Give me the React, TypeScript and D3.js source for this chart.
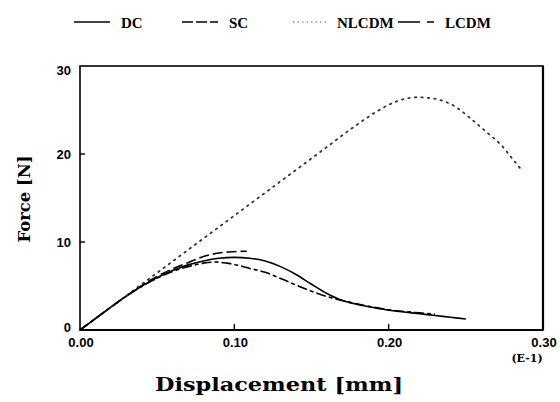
import React from 'react'
import * as d3 from 'd3'

type Pt = [number, number]

// displacement (E-1 mm), force (N)
const dcData: Pt[] = [
  [0, 0], [0.01, 1.3], [0.02, 2.6], [0.03, 3.85], [0.04, 5.0], [0.05, 5.95],
  [0.06, 6.75], [0.07, 7.4], [0.08, 7.85], [0.09, 8.15], [0.1, 8.25], [0.11, 8.15],
  [0.12, 7.85], [0.13, 7.2], [0.14, 6.3], [0.15, 5.2], [0.16, 4.15], [0.17, 3.35],
  [0.18, 2.9], [0.19, 2.55], [0.2, 2.25], [0.21, 2.05], [0.22, 1.85], [0.23, 1.65],
  [0.24, 1.45], [0.25, 1.25],
]
const scData: Pt[] = [
  [0, 0], [0.01, 1.3], [0.02, 2.6], [0.03, 3.85], [0.04, 5.05], [0.05, 6.1],
  [0.06, 6.95], [0.07, 7.65], [0.08, 8.35], [0.09, 8.75], [0.1, 8.9], [0.108, 8.95],
]
const lcdmData: Pt[] = [
  [0, 0], [0.01, 1.3], [0.02, 2.6], [0.03, 3.85], [0.04, 4.95], [0.05, 5.9],
  [0.06, 6.65], [0.07, 7.2], [0.08, 7.6], [0.088, 7.72], [0.095, 7.6], [0.1, 7.45],
  [0.11, 7.0], [0.12, 6.55], [0.13, 5.85], [0.14, 5.1], [0.15, 4.4], [0.16, 3.8],
  [0.17, 3.35], [0.18, 2.95], [0.19, 2.6], [0.2, 2.3], [0.21, 2.1], [0.22, 1.95],
  [0.23, 1.8],
]
const nlcdmData: Pt[] = [
  [0, 0], [0.02, 2.6], [0.04, 5.2], [0.06, 7.8], [0.08, 10.4], [0.1, 13.0],
  [0.12, 15.6], [0.14, 18.2], [0.16, 20.8], [0.176, 22.9], [0.185, 24.0], [0.192, 24.8],
  [0.204, 25.9], [0.218, 26.45], [0.229, 26.3], [0.243, 25.4], [0.254, 23.9],
  [0.264, 22.4], [0.273, 21.0], [0.28, 19.5], [0.287, 18.0],
]

const xTicks = [0, 0.1, 0.2, 0.3]
const yTicks = [0, 10, 20, 30]

const series = [
  { name: 'DC', data: dcData, dash: '', legDash: '', color: '#000', width: 1.6, lx: 74 },
  { name: 'SC', data: scData, dash: '10,4', legDash: '11,3', color: '#000', width: 1.6, lx: 182 },
  { name: 'NLCDM', data: nlcdmData, dash: '1.5,5', legDash: '1.5,3', color: '#333', width: 1.8, lx: 293 },
  { name: 'LCDM', data: lcdmData, dash: '10,3,4,3', legDash: '22,7,7,7', color: '#000', width: 1.6, lx: 398 },
]

const serif = '"DejaVu Serif", serif'
const times = '"Liberation Serif", "Times New Roman", serif'
const sans = '"Liberation Sans", Arial, sans-serif'

export default function App() {
  const x = d3.scaleLinear().domain([0, 0.3]).range([80, 543])
  const y = d3.scaleLinear().domain([0, 30]).range([330, 66])
  const line = d3.line<Pt>().x(d => x(d[0])).y(d => y(d[1])).curve(d3.curveMonotoneX)

  return (
    <svg width={560} height={402} style={{ position: 'absolute', left: 0, top: 0, background: '#fff' }}>
      {/* legend */}
      {series.map(s => (
        <g key={s.name}>
          <line x1={s.lx} x2={s.lx + 36} y1={22} y2={22} stroke={s.name === 'NLCDM' ? '#999' : '#000'}
            strokeWidth={1.4} strokeDasharray={s.legDash} />
          <text x={s.lx + (s.name === 'NLCDM' ? 44 : 47)} y={27.5} fontFamily={times} fontWeight="bold" fontSize={15}>{s.name}</text>
        </g>
      ))}

      {/* frame */}
      <rect x={x(0)} y={y(30)} width={x(0.3) - x(0)} height={y(0) - y(30)} fill="none" stroke="#000" strokeWidth={1.6} />
      <line x1={x(0)} x2={x(0.3)} y1={y(0)} y2={y(0)} stroke="#000" strokeWidth={2.2} />
      <line x1={x(0.3)} x2={x(0.3)} y1={y(30)} y2={y(0)} stroke="#000" strokeWidth={2.2} />

      {/* ticks */}
      {xTicks.slice(1, -1).map(t => (
        <line key={'xt' + t} x1={x(t)} x2={x(t)} y1={y(0)} y2={y(0) - 6} stroke="#000" strokeWidth={1.4} />
      ))}
      {yTicks.slice(1, -1).map(t => (
        <line key={'yt' + t} x1={x(0)} x2={x(0) + 5} y1={y(t)} y2={y(t)} stroke="#000" strokeWidth={1.4} />
      ))}
      {xTicks.map(t => (
        <text key={'xl' + t} x={x(t) + 1} y={347} textAnchor="middle" fontFamily={sans} fontWeight="bold" fontSize={13}>
          {t.toFixed(2)}
        </text>
      ))}
      {yTicks.map(t => (
        <text key={'yl' + t} x={71} y={y(t) + (t === 30 ? 8.5 : t === 0 ? 2 : 5)} textAnchor="end" fontFamily={sans} fontWeight="bold" fontSize={13}>
          {t}
        </text>
      ))}

      {/* curves */}
      {series.map(s => (
        <path key={s.name} d={line(s.data) || ''} fill="none" stroke={s.color} strokeWidth={s.width}
          strokeDasharray={s.dash} strokeLinecap={s.name === 'NLCDM' ? 'round' : 'butt'} />
      ))}

      {/* axis titles */}
      <text x={279} y={391} textAnchor="middle" fontFamily={serif} fontWeight="bold" fontSize={18}
        textLength={248} lengthAdjust="spacingAndGlyphs">Displacement [mm]</text>
      <text transform="translate(30,199) rotate(-90)" textAnchor="middle" fontFamily={serif} fontWeight="bold" fontSize={17}
        textLength={87} lengthAdjust="spacingAndGlyphs">Force [N]</text>
      <text x={527} y={362} textAnchor="middle" fontFamily={serif} fontWeight="bold" fontSize={11}>(E-1)</text>
    </svg>
  )
}
